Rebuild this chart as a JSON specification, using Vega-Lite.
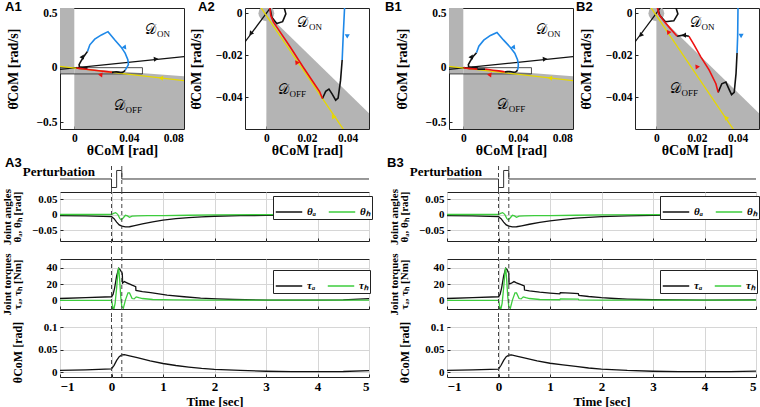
{
"$schema": "https://vega.github.io/schema/vega-lite/v6.json",
"padding": {"left": 0, "top": 0, "right": 0, "bottom": 0},
"background": "white",
"config": {
  "font": "Liberation Serif",
  "view": {"stroke": "#222", "strokeWidth": 1},
  "style": {"guide-label": {"font": "Liberation Serif", "fontWeight": "bold"}, "guide-title": {"font": "Liberation Serif", "fontWeight": "bold"}},
  "axis": {"labelFont": "Liberation Serif", "labelFontWeight": "bold", "labelFontSize": 11, "labelColor": "#000", "labelOverlap": false,
    "titleFont": "Liberation Serif", "titleFontWeight": "bold", "titleFontSize": 12, "titleColor": "#000",
    "domain": false, "tickColor": "#222", "tickSize": -3, "labelPadding": 6, "gridColor": "#d6d6d6", "gridWidth": 1, "grid": false},
  "title": {"font": "Liberation Sans", "fontSize": 13, "fontWeight": "bold", "anchor": "start", "frame": "group", "color": "#000"},
  "text": {"color": "#000"}
},
"datasets": {
  "trajA": [
    {"seg":1,"kind":"perturbation","i":1,"th":0.0016,"thd":0.0034},{"seg":1,"kind":"perturbation","i":2,"th":0.0027,"thd":-0.0019},{"seg":1,"kind":"perturbation","i":3,"th":0.0051,"thd":-0.0049},{"seg":1,"kind":"perturbation","i":4,"th":0.008,"thd":-0.004},{"seg":1,"kind":"perturbation","i":5,"th":0.0096,"thd":-0.0003},{"seg":1,"kind":"perturbation","i":6,"th":0.0087,"thd":0.0029},{"seg":1,"kind":"perturbation","i":7,"th":0.0059,"thd":0.0045},{"seg":1,"kind":"perturbation","i":8,"th":0.0038,"thd":0.008},{"seg":1,"kind":"perturbation","i":9,"th":0.0035,"thd":0.03},{"seg":1,"kind":"perturbation","i":10,"th":0.0048,"thd":0.061},{"seg":1,"kind":"perturbation","i":11,"th":0.007,"thd":0.105},{"seg":1,"kind":"perturbation","i":12,"th":0.0097,"thd":0.152},
    {"seg":2,"kind":"on","i":1,"th":0.0097,"thd":0.152},{"seg":2,"kind":"on","i":2,"th":0.0114,"thd":0.212},{"seg":2,"kind":"on","i":3,"th":0.015,"thd":0.264},{"seg":2,"kind":"on","i":4,"th":0.0199,"thd":0.303},{"seg":2,"kind":"on","i":5,"th":0.0247,"thd":0.333},{"seg":2,"kind":"on","i":6,"th":0.0296,"thd":0.258},{"seg":2,"kind":"on","i":7,"th":0.0344,"thd":0.191},{"seg":2,"kind":"on","i":8,"th":0.0373,"thd":0.136},{"seg":2,"kind":"on","i":9,"th":0.0393,"thd":0.076},{"seg":2,"kind":"on","i":10,"th":0.0397,"thd":0.03},{"seg":2,"kind":"on","i":11,"th":0.0386,"thd":0.005},{"seg":2,"kind":"on","i":12,"th":0.0378,"thd":-0.011},{"seg":2,"kind":"on","i":13,"th":0.0373,"thd":-0.0222},
    {"seg":3,"kind":"transition","i":1,"th":0.0373,"thd":-0.0222},{"seg":3,"kind":"transition","i":2,"th":0.0365,"thd":-0.0319},{"seg":3,"kind":"transition","i":3,"th":0.0353,"thd":-0.0403},{"seg":3,"kind":"transition","i":4,"th":0.0341,"thd":-0.0413},{"seg":3,"kind":"transition","i":5,"th":0.0324,"thd":-0.0384},{"seg":3,"kind":"transition","i":6,"th":0.0308,"thd":-0.036},{"seg":3,"kind":"transition","i":7,"th":0.0292,"thd":-0.0371},{"seg":3,"kind":"transition","i":8,"th":0.0276,"thd":-0.0405},
    {"seg":4,"kind":"off","i":1,"th":0.0276,"thd":-0.0405},{"seg":4,"kind":"off","i":2,"th":0.0262,"thd":-0.0372},{"seg":4,"kind":"off","i":3,"th":0.0236,"thd":-0.0335},{"seg":4,"kind":"off","i":4,"th":0.018,"thd":-0.0254},{"seg":4,"kind":"off","i":5,"th":0.0116,"thd":-0.0158},{"seg":4,"kind":"off","i":6,"th":0.006,"thd":-0.0078},{"seg":4,"kind":"off","i":7,"th":0.0035,"thd":-0.0042},{"seg":4,"kind":"off","i":8,"th":0.0022,"thd":-0.0011},{"seg":4,"kind":"off","i":9,"th":0.0016,"thd":0.0034}
  ],
  "trajB": [
    {"seg":1,"kind":"perturbation","i":1,"th":0.0003,"thd":0.0037},{"seg":1,"kind":"perturbation","i":2,"th":0.0017,"thd":-0.0011},{"seg":1,"kind":"perturbation","i":3,"th":0.0045,"thd":-0.004},{"seg":1,"kind":"perturbation","i":4,"th":0.0086,"thd":-0.0036},{"seg":1,"kind":"perturbation","i":5,"th":0.0106,"thd":-0.0003},{"seg":1,"kind":"perturbation","i":6,"th":0.0094,"thd":0.0034},{"seg":1,"kind":"perturbation","i":7,"th":0.0061,"thd":0.0049},{"seg":1,"kind":"perturbation","i":8,"th":0.004,"thd":0.008},{"seg":1,"kind":"perturbation","i":9,"th":0.0037,"thd":0.03},{"seg":1,"kind":"perturbation","i":10,"th":0.005,"thd":0.061},{"seg":1,"kind":"perturbation","i":11,"th":0.0072,"thd":0.105},{"seg":1,"kind":"perturbation","i":12,"th":0.0097,"thd":0.14},
    {"seg":2,"kind":"on","i":1,"th":0.0097,"thd":0.14},{"seg":2,"kind":"on","i":2,"th":0.0114,"thd":0.2},{"seg":2,"kind":"on","i":3,"th":0.015,"thd":0.255},{"seg":2,"kind":"on","i":4,"th":0.0199,"thd":0.298},{"seg":2,"kind":"on","i":5,"th":0.0247,"thd":0.326},{"seg":2,"kind":"on","i":6,"th":0.0296,"thd":0.255},{"seg":2,"kind":"on","i":7,"th":0.0344,"thd":0.19},{"seg":2,"kind":"on","i":8,"th":0.0378,"thd":0.135},{"seg":2,"kind":"on","i":9,"th":0.0398,"thd":0.076},{"seg":2,"kind":"on","i":10,"th":0.0404,"thd":0.03},{"seg":2,"kind":"on","i":11,"th":0.0402,"thd":0.005},{"seg":2,"kind":"on","i":12,"th":0.04,"thd":-0.0108},{"seg":2,"kind":"on","i":13,"th":0.0397,"thd":-0.0189},
    {"seg":3,"kind":"transition","i":1,"th":0.0397,"thd":-0.0189},{"seg":3,"kind":"transition","i":2,"th":0.0392,"thd":-0.0287},{"seg":3,"kind":"transition","i":3,"th":0.0383,"thd":-0.0376},{"seg":3,"kind":"transition","i":4,"th":0.037,"thd":-0.0387},{"seg":3,"kind":"transition","i":5,"th":0.0359,"thd":-0.0364},{"seg":3,"kind":"transition","i":6,"th":0.0342,"thd":-0.0327},{"seg":3,"kind":"transition","i":7,"th":0.0322,"thd":-0.0335},{"seg":3,"kind":"transition","i":8,"th":0.0304,"thd":-0.0376},
    {"seg":4,"kind":"off","i":1,"th":0.0304,"thd":-0.0376},{"seg":4,"kind":"off","i":2,"th":0.0293,"thd":-0.0335},{"seg":4,"kind":"off","i":3,"th":0.026,"thd":-0.027},{"seg":4,"kind":"off","i":4,"th":0.0218,"thd":-0.0206},{"seg":4,"kind":"off","i":5,"th":0.0185,"thd":-0.0149},{"seg":4,"kind":"off","i":6,"th":0.016,"thd":-0.0109},
    {"seg":5,"kind":"transition","i":1,"th":0.016,"thd":-0.0109},{"seg":5,"kind":"transition","i":2,"th":0.0132,"thd":-0.0104},{"seg":5,"kind":"transition","i":3,"th":0.0102,"thd":-0.0109},
    {"seg":6,"kind":"off","i":1,"th":0.0102,"thd":-0.0109},{"seg":6,"kind":"off","i":2,"th":0.0069,"thd":-0.0073},{"seg":6,"kind":"off","i":3,"th":0.0036,"thd":-0.0036},{"seg":6,"kind":"off","i":4,"th":0.0012,"thd":-0.0003},{"seg":6,"kind":"off","i":5,"th":0.0003,"thd":0.0037}
  ],
  "arrows1": [
    {"th":0.06,"thd":0.082,"dir":-6,"kind":"unstable"},{"th":0.0635,"thd":-0.093,"dir":186,"kind":"stable"},{"th":0.019,"thd":-0.062,"dir":186,"kind":"off"},{"th":0.0372,"thd":0.185,"dir":52,"kind":"on"},{"th":0.0062,"thd":0.106,"dir":-62,"kind":"perturbation"}
  ],
  "arrowsA2": [
    {"th":-0.0077,"thd":-0.0097,"dir":127.6,"kind":"unstable"},{"th":0.0148,"thd":-0.0232,"dir":234.5,"kind":"off"},{"th":0.0328,"thd":-0.0489,"dir":234.5,"kind":"stable"},{"th":0.0398,"thd":-0.011,"dir":90,"kind":"on"}
  ],
  "arrowsB2": [
    {"th":-0.0077,"thd":-0.0105,"dir":127.6,"kind":"unstable"},{"th":0.0058,"thd":-0.0088,"dir":234.5,"kind":"off"},{"th":0.0198,"thd":-0.0252,"dir":234.5,"kind":"off"},{"th":0.0135,"thd":-0.0104,"dir":180,"kind":"transition"},{"th":0.0342,"thd":-0.0495,"dir":234.5,"kind":"stable"},{"th":0.0417,"thd":-0.0108,"dir":90,"kind":"on"}
  ],
  "manifolds": [
    {"kind":"unstable","th":-0.0105,"thd":-0.01365},{"kind":"unstable","th":0.0805,"thd":0.10465},
    {"kind":"stable","th":-0.0105,"thd":0.0139},{"kind":"stable","th":0.0805,"thd":-0.116}
  ],
  "wedge": [{"th":0,"lo":-0.6,"hi":0},{"th":0.0805,"lo":-0.6,"hi":-0.0757}],
  "strip": [{"th":-0.0105,"th2":0,"lo":-0.055,"hi":0.6}],
  "zoombox": [{"th":-0.0105,"th2":0.05,"lo":-0.055,"hi":0.0025}],
  "origin": [{"th":0,"thd":0}],
  "events": [{"t":0},{"t":0.2}],
  "pert": [{"i":1,"t":-1,"u":0},{"i":2,"t":0,"u":0},{"i":3,"t":0,"u":-1},{"i":4,"t":0.1,"u":-1},{"i":5,"t":0.1,"u":1},{"i":6,"t":0.2,"u":1},{"i":7,"t":0.2,"u":0},{"i":8,"t":5,"u":0}],
  "angA": [
    {"s":"θₐ","t":-1,"v":-0.003},{"s":"θₐ","t":-0.5,"v":-0.004},{"s":"θₐ","t":0,"v":-0.0065},{"s":"θₐ","t":0.05,"v":-0.013},{"s":"θₐ","t":0.1,"v":-0.024},{"s":"θₐ","t":0.15,"v":-0.033},{"s":"θₐ","t":0.2,"v":-0.037},{"s":"θₐ","t":0.27,"v":-0.0395},{"s":"θₐ","t":0.35,"v":-0.039},{"s":"θₐ","t":0.45,"v":-0.0355},{"s":"θₐ","t":0.6,"v":-0.03},{"s":"θₐ","t":0.8,"v":-0.023},{"s":"θₐ","t":1.0,"v":-0.0175},{"s":"θₐ","t":1.25,"v":-0.013},{"s":"θₐ","t":1.5,"v":-0.0095},{"s":"θₐ","t":1.75,"v":-0.007},{"s":"θₐ","t":2.0,"v":-0.0052},{"s":"θₐ","t":2.5,"v":-0.0035},{"s":"θₐ","t":3,"v":-0.0025},{"s":"θₐ","t":3.5,"v":-0.002},{"s":"θₐ","t":4,"v":-0.0018},{"s":"θₐ","t":4.5,"v":-0.002},{"s":"θₐ","t":5,"v":-0.003},
    {"s":"θₕ","t":-1,"v":0.0005},{"s":"θₕ","t":0,"v":0.0005},{"s":"θₕ","t":0.04,"v":0.004},{"s":"θₕ","t":0.08,"v":0.0065},{"s":"θₕ","t":0.12,"v":0.001},{"s":"θₕ","t":0.16,"v":-0.012},{"s":"θₕ","t":0.19,"v":-0.017},{"s":"θₕ","t":0.23,"v":-0.01},{"s":"θₕ","t":0.27,"v":-0.002},{"s":"θₕ","t":0.31,"v":-0.004},{"s":"θₕ","t":0.35,"v":-0.0085},{"s":"θₕ","t":0.4,"v":-0.005},{"s":"θₕ","t":0.5,"v":-0.004},{"s":"θₕ","t":0.7,"v":-0.0035},{"s":"θₕ","t":1.0,"v":-0.003},{"s":"θₕ","t":1.5,"v":-0.002},{"s":"θₕ","t":2,"v":-0.001},{"s":"θₕ","t":3,"v":0},{"s":"θₕ","t":4,"v":0.0005},{"s":"θₕ","t":5,"v":0.0005}
  ],
  "angB": [
    {"s":"θₐ","t":-1,"v":-0.003},{"s":"θₐ","t":-0.5,"v":-0.004},{"s":"θₐ","t":0,"v":-0.0065},{"s":"θₐ","t":0.05,"v":-0.013},{"s":"θₐ","t":0.1,"v":-0.024},{"s":"θₐ","t":0.15,"v":-0.033},{"s":"θₐ","t":0.2,"v":-0.037},{"s":"θₐ","t":0.27,"v":-0.0395},{"s":"θₐ","t":0.35,"v":-0.039},{"s":"θₐ","t":0.45,"v":-0.036},{"s":"θₐ","t":0.6,"v":-0.031},{"s":"θₐ","t":0.8,"v":-0.025},{"s":"θₐ","t":1.0,"v":-0.02},{"s":"θₐ","t":1.25,"v":-0.0155},{"s":"θₐ","t":1.5,"v":-0.0115},{"s":"θₐ","t":1.75,"v":-0.0085},{"s":"θₐ","t":2.0,"v":-0.0062},{"s":"θₐ","t":2.5,"v":-0.004},{"s":"θₐ","t":3,"v":-0.0025},{"s":"θₐ","t":3.5,"v":-0.0018},{"s":"θₐ","t":4,"v":-0.0012},{"s":"θₐ","t":4.5,"v":-0.001},{"s":"θₐ","t":5,"v":-0.001},
    {"s":"θₕ","t":-1,"v":0.0005},{"s":"θₕ","t":0,"v":0.0005},{"s":"θₕ","t":0.04,"v":0.004},{"s":"θₕ","t":0.08,"v":0.0065},{"s":"θₕ","t":0.12,"v":0.001},{"s":"θₕ","t":0.16,"v":-0.012},{"s":"θₕ","t":0.19,"v":-0.017},{"s":"θₕ","t":0.23,"v":-0.01},{"s":"θₕ","t":0.27,"v":-0.002},{"s":"θₕ","t":0.31,"v":-0.004},{"s":"θₕ","t":0.35,"v":-0.0085},{"s":"θₕ","t":0.4,"v":-0.005},{"s":"θₕ","t":0.5,"v":-0.004},{"s":"θₕ","t":0.7,"v":-0.0035},{"s":"θₕ","t":1.0,"v":-0.003},{"s":"θₕ","t":1.5,"v":-0.002},{"s":"θₕ","t":2,"v":-0.001},{"s":"θₕ","t":3,"v":0},{"s":"θₕ","t":4,"v":0.0005},{"s":"θₕ","t":5,"v":0.0005}
  ],
  "torA": [
    {"s":"τₐ","t":-1,"v":2},{"s":"τₐ","t":-0.5,"v":3},{"s":"τₐ","t":0,"v":4.2},{"s":"τₐ","t":0.03,"v":7},{"s":"τₐ","t":0.06,"v":15},{"s":"τₐ","t":0.1,"v":30},{"s":"τₐ","t":0.14,"v":39.5},{"s":"τₐ","t":0.17,"v":37.5},{"s":"τₐ","t":0.21,"v":33},{"s":"τₐ","t":0.215,"v":21},{"s":"τₐ","t":0.25,"v":23},{"s":"τₐ","t":0.3,"v":21.5},{"s":"τₐ","t":0.4,"v":18.5},{"s":"τₐ","t":0.47,"v":16.7},{"s":"τₐ","t":0.475,"v":12},{"s":"τₐ","t":0.6,"v":10.5},{"s":"τₐ","t":0.76,"v":9.2},{"s":"τₐ","t":1.08,"v":6.3},{"s":"τₐ","t":1.41,"v":4.2},{"s":"τₐ","t":1.73,"v":2.5},{"s":"τₐ","t":2.05,"v":1.5},{"s":"τₐ","t":2.38,"v":0.8},{"s":"τₐ","t":3.03,"v":0.1},{"s":"τₐ","t":4,"v":0},{"s":"τₐ","t":4.5,"v":0.4},{"s":"τₐ","t":5,"v":1.8},
    {"s":"τₕ","t":-1,"v":-0.4},{"s":"τₕ","t":0,"v":-0.4},{"s":"τₕ","t":0.015,"v":-5},{"s":"τₕ","t":0.04,"v":-13},{"s":"τₕ","t":0.07,"v":-4},{"s":"τₕ","t":0.1,"v":15},{"s":"τₕ","t":0.125,"v":35},{"s":"τₕ","t":0.14,"v":40},{"s":"τₕ","t":0.16,"v":24},{"s":"τₕ","t":0.18,"v":4},{"s":"τₕ","t":0.2,"v":-8},{"s":"τₕ","t":0.23,"v":-10},{"s":"τₕ","t":0.27,"v":0},{"s":"τₕ","t":0.32,"v":9},{"s":"τₕ","t":0.35,"v":9},{"s":"τₕ","t":0.4,"v":2},{"s":"τₕ","t":0.44,"v":1.5},{"s":"τₕ","t":0.48,"v":4},{"s":"τₕ","t":0.53,"v":3},{"s":"τₕ","t":0.6,"v":2},{"s":"τₕ","t":0.8,"v":0.8},{"s":"τₕ","t":1.2,"v":0.3},{"s":"τₕ","t":2,"v":0},{"s":"τₕ","t":5,"v":0}
  ],
  "torB": [
    {"s":"τₐ","t":-1,"v":2},{"s":"τₐ","t":-0.5,"v":3},{"s":"τₐ","t":0,"v":4.2},{"s":"τₐ","t":0.03,"v":7},{"s":"τₐ","t":0.06,"v":15},{"s":"τₐ","t":0.1,"v":30},{"s":"τₐ","t":0.14,"v":39.5},{"s":"τₐ","t":0.17,"v":37.5},{"s":"τₐ","t":0.2,"v":33},{"s":"τₐ","t":0.205,"v":20},{"s":"τₐ","t":0.25,"v":21},{"s":"τₐ","t":0.3,"v":23},{"s":"τₐ","t":0.35,"v":21.5},{"s":"τₐ","t":0.45,"v":19},{"s":"τₐ","t":0.5,"v":17.5},{"s":"τₐ","t":0.505,"v":12.5},{"s":"τₐ","t":0.6,"v":11.5},{"s":"τₐ","t":0.8,"v":10},{"s":"τₐ","t":1.0,"v":8.8},{"s":"τₐ","t":1.19,"v":7.8},{"s":"τₐ","t":1.2,"v":9.3},{"s":"τₐ","t":1.4,"v":8.8},{"s":"τₐ","t":1.55,"v":8.2},{"s":"τₐ","t":1.56,"v":6},{"s":"τₐ","t":1.75,"v":4.5},{"s":"τₐ","t":2.0,"v":3},{"s":"τₐ","t":2.25,"v":2},{"s":"τₐ","t":2.5,"v":1.3},{"s":"τₐ","t":3,"v":0.5},{"s":"τₐ","t":3.5,"v":0.2},{"s":"τₐ","t":4,"v":0.1},{"s":"τₐ","t":5,"v":0.2},
    {"s":"τₕ","t":-1,"v":-0.4},{"s":"τₕ","t":0,"v":-0.4},{"s":"τₕ","t":0.015,"v":-5},{"s":"τₕ","t":0.04,"v":-13},{"s":"τₕ","t":0.07,"v":-4},{"s":"τₕ","t":0.1,"v":15},{"s":"τₕ","t":0.125,"v":35},{"s":"τₕ","t":0.14,"v":40},{"s":"τₕ","t":0.16,"v":24},{"s":"τₕ","t":0.18,"v":4},{"s":"τₕ","t":0.2,"v":-8},{"s":"τₕ","t":0.23,"v":-10},{"s":"τₕ","t":0.27,"v":0},{"s":"τₕ","t":0.32,"v":9},{"s":"τₕ","t":0.35,"v":9},{"s":"τₕ","t":0.4,"v":2},{"s":"τₕ","t":0.44,"v":1.5},{"s":"τₕ","t":0.48,"v":4},{"s":"τₕ","t":0.53,"v":3},{"s":"τₕ","t":0.6,"v":2},{"s":"τₕ","t":0.8,"v":0.8},{"s":"τₕ","t":1.19,"v":0.5},{"s":"τₕ","t":1.2,"v":1.5},{"s":"τₕ","t":1.55,"v":1.2},{"s":"τₕ","t":1.56,"v":0.4},{"s":"τₕ","t":2,"v":0.1},{"s":"τₕ","t":5,"v":0}
  ],
  "comA": [
    {"t":-1,"v":0.0038},{"t":-0.5,"v":0.005},{"t":0,"v":0.0068},{"t":0.05,"v":0.015},{"t":0.1,"v":0.026},{"t":0.15,"v":0.034},{"t":0.2,"v":0.038},{"t":0.25,"v":0.0385},{"t":0.35,"v":0.036},{"t":0.5,"v":0.032},{"t":0.75,"v":0.025},{"t":1.0,"v":0.019},{"t":1.25,"v":0.0145},{"t":1.5,"v":0.011},{"t":1.75,"v":0.008},{"t":2.0,"v":0.006},{"t":2.5,"v":0.0035},{"t":3,"v":0.0018},{"t":3.5,"v":0.001},{"t":4,"v":0.0008},{"t":4.5,"v":0.0012},{"t":5,"v":0.003}
  ],
  "comB": [
    {"t":-1,"v":0.0038},{"t":-0.5,"v":0.005},{"t":0,"v":0.0065},{"t":0.05,"v":0.015},{"t":0.1,"v":0.026},{"t":0.15,"v":0.034},{"t":0.2,"v":0.0375},{"t":0.25,"v":0.038},{"t":0.35,"v":0.0355},{"t":0.5,"v":0.0315},{"t":0.75,"v":0.025},{"t":1.0,"v":0.0195},{"t":1.25,"v":0.016},{"t":1.5,"v":0.0125},{"t":1.75,"v":0.009},{"t":2.0,"v":0.0065},{"t":2.5,"v":0.0035},{"t":3,"v":0.0018},{"t":3.5,"v":0.001},{"t":4,"v":0.0008},{"t":4.5,"v":0.001},{"t":5,"v":0.0022}
  ]
},
"vconcat": [
  {"hconcat": [
    {"hconcat": [
      {"width": 124, "height": 121, "title": {"text": "A1", "dx": -55, "dy": 11},
       "layer": [
        {"data": {"name": "strip"}, "mark": {"type": "rect", "color": "#b4b4b4", "clip": true},
         "encoding": {"x": {"field": "th", "type": "quantitative", "scale": {"domain": [-0.0105, 0.0805], "nice": false, "zero": false}, "axis": {"values": [0, 0.02, 0.04, 0.06, 0.08], "format": "~g", "title": "θCoM [rad]", "titleFontSize": 14, "labelFontSize": 11.5, "titlePadding": 0}},
          "x2": {"field": "th2"},
          "y": {"field": "lo", "type": "quantitative", "scale": {"domain": [-0.56, 0.55], "nice": false, "zero": false}, "axis": {"values": [-0.5, 0, 0.5], "format": "~g", "title": "θ̇CoM [rad/s]", "titleFontSize": 14, "labelFontSize": 11.5, "minExtent": 28, "maxExtent": 28, "titlePadding": 12}},
          "y2": {"field": "hi"}}},
        {"data": {"name": "wedge"}, "mark": {"type": "area", "color": "#b4b4b4", "clip": true},
         "encoding": {"x": {"field": "th", "type": "quantitative"}, "y": {"field": "lo", "type": "quantitative"}, "y2": {"field": "hi"}}},
        {"data": {"name": "zoombox"}, "mark": {"type": "rect", "fill": null, "stroke": "#222", "strokeWidth": 0.8, "clip": true},
         "encoding": {"x": {"field": "th", "type": "quantitative"}, "x2": {"field": "th2"}, "y": {"field": "lo", "type": "quantitative"}, "y2": {"field": "hi"}}},
        {"data": {"name": "manifolds"}, "mark": {"type": "line", "strokeWidth": 1.3, "clip": true},
         "encoding": {"x": {"field": "th", "type": "quantitative"}, "y": {"field": "thd", "type": "quantitative"},
          "color": {"field": "kind", "type": "nominal", "scale": {"domain": ["stable", "unstable", "perturbation", "on", "transition", "off"], "range": ["#e6d800", "#111111", "#111111", "#1e88e8", "#111111", "#ee1111"]}, "legend": null}}},
        {"data": {"name": "trajA"}, "mark": {"type": "line", "strokeWidth": 1.6, "clip": true},
         "encoding": {"x": {"field": "th", "type": "quantitative"}, "y": {"field": "thd", "type": "quantitative"}, "detail": {"field": "seg", "type": "nominal"}, "order": {"field": "i", "type": "quantitative"},
          "color": {"field": "kind", "type": "nominal", "legend": null}}},
        {"data": {"name": "arrows1"}, "mark": {"type": "point", "shape": "triangle-right", "filled": true, "opacity": 1, "size": 26, "clip": true},
         "encoding": {"x": {"field": "th", "type": "quantitative"}, "y": {"field": "thd", "type": "quantitative"}, "angle": {"field": "dir", "type": "quantitative", "scale": null}, "color": {"field": "kind", "type": "nominal", "legend": null}}},
        {"data": {"values": [{"th": 0.0562, "thd": 0.348, "base": "𝒟", "sub": "ON"}, {"th": 0.0332, "thd": -0.348, "base": "𝒟", "sub": "OFF"}]},
         "layer": [
          {"mark": {"type": "text", "font": "DejaVu Serif", "fontSize": 14, "align": "center", "baseline": "middle"}, "encoding": {"x": {"field": "th", "type": "quantitative"}, "y": {"field": "thd", "type": "quantitative"}, "text": {"field": "base"}}},
          {"mark": {"type": "text", "font": "Liberation Serif", "fontSize": 9, "align": "left", "baseline": "middle", "dx": 6, "dy": 4}, "encoding": {"x": {"field": "th", "type": "quantitative"}, "y": {"field": "thd", "type": "quantitative"}, "text": {"field": "sub"}}}
         ]}
       ]},
      {"width": 124, "height": 121, "title": {"text": "A2", "dx": -47, "dy": 11},
       "layer": [
        {"data": {"name": "wedge"}, "mark": {"type": "area", "color": "#b4b4b4", "clip": true},
         "encoding": {"x": {"field": "th", "type": "quantitative", "scale": {"domain": [-0.0105, 0.0505], "nice": false, "zero": false}, "axis": {"values": [0, 0.02, 0.04], "format": "~g", "title": "θCoM [rad]", "titleFontSize": 14, "labelFontSize": 11.5, "titlePadding": 0}},
          "y": {"field": "lo", "type": "quantitative", "scale": {"domain": [-0.055, 0.0025], "nice": false, "zero": false}, "axis": {"values": [-0.04, -0.02, 0], "format": "~g", "title": "θ̇CoM [rad/s]", "titleFontSize": 14, "labelFontSize": 11.5, "minExtent": 30, "maxExtent": 30, "titlePadding": 12}},
          "y2": {"field": "hi"}}},
        {"data": {"name": "origin"}, "mark": {"type": "point", "shape": "circle", "filled": true, "color": "#b4b4b4", "opacity": 1, "size": 250, "clip": true},
         "encoding": {"x": {"field": "th", "type": "quantitative"}, "y": {"field": "thd", "type": "quantitative"}}},
        {"data": {"name": "manifolds"}, "mark": {"type": "line", "strokeWidth": 1.3, "clip": true},
         "encoding": {"x": {"field": "th", "type": "quantitative"}, "y": {"field": "thd", "type": "quantitative"},
          "color": {"field": "kind", "type": "nominal", "scale": {"domain": ["stable", "unstable", "perturbation", "on", "transition", "off"], "range": ["#e6d800", "#111111", "#111111", "#1e88e8", "#111111", "#ee1111"]}, "legend": null}}},
        {"data": {"name": "trajA"}, "mark": {"type": "line", "strokeWidth": 1.6, "clip": true},
         "encoding": {"x": {"field": "th", "type": "quantitative"}, "y": {"field": "thd", "type": "quantitative"}, "detail": {"field": "seg", "type": "nominal"}, "order": {"field": "i", "type": "quantitative"},
          "color": {"field": "kind", "type": "nominal", "legend": null}}},
        {"data": {"name": "arrowsA2"}, "mark": {"type": "point", "shape": "triangle-right", "filled": true, "opacity": 1, "size": 26, "clip": true},
         "encoding": {"x": {"field": "th", "type": "quantitative"}, "y": {"field": "thd", "type": "quantitative"}, "angle": {"field": "dir", "type": "quantitative", "scale": null}, "color": {"field": "kind", "type": "nominal", "legend": null}}},
        {"data": {"values": [{"th": 0.018, "thd": -0.0047, "base": "𝒟", "sub": "ON"}, {"th": 0.0084, "thd": -0.0364, "base": "𝒟", "sub": "OFF"}]},
         "layer": [
          {"mark": {"type": "text", "font": "DejaVu Serif", "fontSize": 14, "align": "center", "baseline": "middle"}, "encoding": {"x": {"field": "th", "type": "quantitative"}, "y": {"field": "thd", "type": "quantitative"}, "text": {"field": "base"}}},
          {"mark": {"type": "text", "font": "Liberation Serif", "fontSize": 9, "align": "left", "baseline": "middle", "dx": 6, "dy": 4}, "encoding": {"x": {"field": "th", "type": "quantitative"}, "y": {"field": "thd", "type": "quantitative"}, "text": {"field": "sub"}}}
         ]}
       ]}
    ], "spacing": 61, "bounds": "flush"},
    {"hconcat": [
      {"width": 124, "height": 121, "title": {"text": "B1", "dx": -64, "dy": 11},
       "layer": [
        {"data": {"name": "strip"}, "mark": {"type": "rect", "color": "#b4b4b4", "clip": true},
         "encoding": {"x": {"field": "th", "type": "quantitative", "scale": {"domain": [-0.0105, 0.0805], "nice": false, "zero": false}, "axis": {"values": [0, 0.02, 0.04, 0.06, 0.08], "format": "~g", "title": "θCoM [rad]", "titleFontSize": 14, "labelFontSize": 11.5, "titlePadding": 0}},
          "x2": {"field": "th2"},
          "y": {"field": "lo", "type": "quantitative", "scale": {"domain": [-0.56, 0.55], "nice": false, "zero": false}, "axis": {"values": [-0.5, 0, 0.5], "format": "~g", "title": "θ̇CoM [rad/s]", "titleFontSize": 14, "labelFontSize": 11.5, "minExtent": 28, "maxExtent": 28, "titlePadding": 12}},
          "y2": {"field": "hi"}}},
        {"data": {"name": "wedge"}, "mark": {"type": "area", "color": "#b4b4b4", "clip": true},
         "encoding": {"x": {"field": "th", "type": "quantitative"}, "y": {"field": "lo", "type": "quantitative"}, "y2": {"field": "hi"}}},
        {"data": {"name": "zoombox"}, "mark": {"type": "rect", "fill": null, "stroke": "#222", "strokeWidth": 0.8, "clip": true},
         "encoding": {"x": {"field": "th", "type": "quantitative"}, "x2": {"field": "th2"}, "y": {"field": "lo", "type": "quantitative"}, "y2": {"field": "hi"}}},
        {"data": {"name": "manifolds"}, "mark": {"type": "line", "strokeWidth": 1.3, "clip": true},
         "encoding": {"x": {"field": "th", "type": "quantitative"}, "y": {"field": "thd", "type": "quantitative"},
          "color": {"field": "kind", "type": "nominal", "scale": {"domain": ["stable", "unstable", "perturbation", "on", "transition", "off"], "range": ["#e6d800", "#111111", "#111111", "#1e88e8", "#111111", "#ee1111"]}, "legend": null}}},
        {"data": {"name": "trajB"}, "mark": {"type": "line", "strokeWidth": 1.6, "clip": true},
         "encoding": {"x": {"field": "th", "type": "quantitative"}, "y": {"field": "thd", "type": "quantitative"}, "detail": {"field": "seg", "type": "nominal"}, "order": {"field": "i", "type": "quantitative"},
          "color": {"field": "kind", "type": "nominal", "legend": null}}},
        {"data": {"name": "arrows1"}, "mark": {"type": "point", "shape": "triangle-right", "filled": true, "opacity": 1, "size": 26, "clip": true},
         "encoding": {"x": {"field": "th", "type": "quantitative"}, "y": {"field": "thd", "type": "quantitative"}, "angle": {"field": "dir", "type": "quantitative", "scale": null}, "color": {"field": "kind", "type": "nominal", "legend": null}}},
        {"data": {"values": [{"th": 0.0573, "thd": 0.344, "base": "𝒟", "sub": "ON"}, {"th": 0.0289, "thd": -0.338, "base": "𝒟", "sub": "OFF"}]},
         "layer": [
          {"mark": {"type": "text", "font": "DejaVu Serif", "fontSize": 14, "align": "center", "baseline": "middle"}, "encoding": {"x": {"field": "th", "type": "quantitative"}, "y": {"field": "thd", "type": "quantitative"}, "text": {"field": "base"}}},
          {"mark": {"type": "text", "font": "Liberation Serif", "fontSize": 9, "align": "left", "baseline": "middle", "dx": 6, "dy": 4}, "encoding": {"x": {"field": "th", "type": "quantitative"}, "y": {"field": "thd", "type": "quantitative"}, "text": {"field": "sub"}}}
         ]}
       ]},
      {"width": 124, "height": 121, "title": {"text": "B2", "dx": -59, "dy": 11},
       "layer": [
        {"data": {"name": "wedge"}, "mark": {"type": "area", "color": "#b4b4b4", "clip": true},
         "encoding": {"x": {"field": "th", "type": "quantitative", "scale": {"domain": [-0.0105, 0.0505], "nice": false, "zero": false}, "axis": {"values": [0, 0.02, 0.04], "format": "~g", "title": "θCoM [rad]", "titleFontSize": 14, "labelFontSize": 11.5, "titlePadding": 0}},
          "y": {"field": "lo", "type": "quantitative", "scale": {"domain": [-0.055, 0.0025], "nice": false, "zero": false}, "axis": {"values": [-0.04, -0.02, 0], "format": "~g", "title": "θ̇CoM [rad/s]", "titleFontSize": 14, "labelFontSize": 11.5, "minExtent": 30, "maxExtent": 30, "titlePadding": 12}},
          "y2": {"field": "hi"}}},
        {"data": {"name": "origin"}, "mark": {"type": "point", "shape": "circle", "filled": true, "color": "#b4b4b4", "opacity": 1, "size": 250, "clip": true},
         "encoding": {"x": {"field": "th", "type": "quantitative"}, "y": {"field": "thd", "type": "quantitative"}}},
        {"data": {"name": "manifolds"}, "mark": {"type": "line", "strokeWidth": 1.3, "clip": true},
         "encoding": {"x": {"field": "th", "type": "quantitative"}, "y": {"field": "thd", "type": "quantitative"},
          "color": {"field": "kind", "type": "nominal", "scale": {"domain": ["stable", "unstable", "perturbation", "on", "transition", "off"], "range": ["#e6d800", "#111111", "#111111", "#1e88e8", "#111111", "#ee1111"]}, "legend": null}}},
        {"data": {"name": "trajB"}, "mark": {"type": "line", "strokeWidth": 1.6, "clip": true},
         "encoding": {"x": {"field": "th", "type": "quantitative"}, "y": {"field": "thd", "type": "quantitative"}, "detail": {"field": "seg", "type": "nominal"}, "order": {"field": "i", "type": "quantitative"},
          "color": {"field": "kind", "type": "nominal", "legend": null}}},
        {"data": {"name": "arrowsB2"}, "mark": {"type": "point", "shape": "triangle-right", "filled": true, "opacity": 1, "size": 26, "clip": true},
         "encoding": {"x": {"field": "th", "type": "quantitative"}, "y": {"field": "thd", "type": "quantitative"}, "angle": {"field": "dir", "type": "quantitative", "scale": null}, "color": {"field": "kind", "type": "nominal", "legend": null}}},
        {"data": {"values": [{"th": 0.0193, "thd": -0.0047, "base": "𝒟", "sub": "ON"}, {"th": 0.0094, "thd": -0.036, "base": "𝒟", "sub": "OFF"}]},
         "layer": [
          {"mark": {"type": "text", "font": "DejaVu Serif", "fontSize": 14, "align": "center", "baseline": "middle"}, "encoding": {"x": {"field": "th", "type": "quantitative"}, "y": {"field": "thd", "type": "quantitative"}, "text": {"field": "base"}}},
          {"mark": {"type": "text", "font": "Liberation Serif", "fontSize": 9, "align": "left", "baseline": "middle", "dx": 6, "dy": 4}, "encoding": {"x": {"field": "th", "type": "quantitative"}, "y": {"field": "thd", "type": "quantitative"}, "text": {"field": "sub"}}}
         ]}
       ]}
    ], "spacing": 62, "bounds": "flush"}
  ], "spacing": 14},
  {"hconcat": [
    {"vconcat": [
      {"width": 309, "height": 8, "view": {"stroke": null}, "title": {"text": "A3", "dx": -55, "offset": 3, "dy": 7},
       "layer": [
        {"data": {"name": "events"}, "mark": {"type": "rule", "strokeDash": [4, 3], "color": "#444", "strokeWidth": 1},
         "encoding": {"x": {"field": "t", "type": "quantitative", "scale": {"domain": [-1, 5], "nice": false, "zero": false}, "axis": null},
          "y": {"datum": 1.529, "type": "quantitative", "scale": {"domain": [0.588, 1.529], "nice": false, "zero": false}, "axis": null}, "y2": {"datum": -1.3}}},
        {"data": {"name": "pert"}, "mark": {"type": "line", "color": "#333", "strokeWidth": 1},
         "encoding": {"x": {"field": "t", "type": "quantitative"}, "y": {"field": "u", "type": "quantitative"}, "order": {"field": "i", "type": "quantitative"}}},
        {"data": {"values": [{"label": "Perturbation"}]}, "mark": {"type": "text", "align": "right", "baseline": "alphabetic", "font": "Liberation Serif", "fontWeight": "bold", "fontSize": 13},
         "encoding": {"x": {"datum": -0.32, "type": "quantitative"}, "y": {"datum": 0.35, "type": "quantitative"}, "text": {"field": "label"}}}
       ]},
      {"width": 309, "height": 49, "resolve": {"scale": {"y": "independent"}},
       "layer": [
        {"data": {"name": "angA"}, "mark": {"type": "line", "strokeWidth": 1.3, "clip": true},
         "encoding": {"x": {"field": "t", "type": "quantitative", "scale": {"domain": [-1, 5], "nice": false, "zero": false}, "axis": {"values": [-1, -0.5, 0, 0.5, 1, 1.5, 2, 2.5, 3, 3.5, 4, 4.5, 5], "labels": false, "title": null, "grid": true}},
          "y": {"field": "v", "type": "quantitative", "scale": {"domain": [-0.085, 0.073], "nice": false, "zero": false}, "axis": {"values": [-0.05, 0, 0.05], "format": "~g", "title": ["Joint angles", "θₐ, θₕ [rad]"], "titleFontSize": 11, "titleLineHeight": 10, "grid": true, "minExtent": 28, "maxExtent": 28, "titlePadding": 10}},
          "color": {"field": "s", "type": "nominal", "scale": {"domain": ["θₐ", "θₕ"], "range": ["#111111", "#3ccc3c"]},
           "legend": {"title": null, "orient": "none", "legendX": 213, "legendY": 4, "direction": "horizontal", "strokeColor": "#222", "fillColor": "white", "padding": 2, "symbolType": "stroke", "symbolSize": 700, "symbolStrokeWidth": 1.5, "labelFont": "Liberation Serif", "labelFontSize": 11, "labelFontWeight": "bold", "labelFontStyle": "italic", "columnPadding": 8, "labelOffset": 4}}}},
        {"data": {"name": "events"}, "mark": {"type": "rule", "strokeDash": [4, 3], "color": "#444", "strokeWidth": 1},
         "encoding": {"x": {"field": "t", "type": "quantitative"},
          "y": {"datum": 1.041, "type": "quantitative", "scale": {"domain": [0, 1], "nice": false, "zero": false}, "axis": null}, "y2": {"datum": -0.184}}}
       ]},
      {"width": 309, "height": 50, "resolve": {"scale": {"y": "independent"}},
       "layer": [
        {"data": {"name": "torA"}, "mark": {"type": "line", "strokeWidth": 1.3, "clip": true},
         "encoding": {"x": {"field": "t", "type": "quantitative", "scale": {"domain": [-1, 5], "nice": false, "zero": false}, "axis": {"values": [-1, -0.5, 0, 0.5, 1, 1.5, 2, 2.5, 3, 3.5, 4, 4.5, 5], "labels": false, "title": null, "grid": true}},
          "y": {"field": "v", "type": "quantitative", "scale": {"domain": [-11, 51], "nice": false, "zero": false}, "axis": {"values": [0, 20, 40], "format": "d", "title": ["Joint torques", "τₐ, τₕ [Nm]"], "titleFontSize": 11, "titleLineHeight": 10, "grid": true, "minExtent": 28, "maxExtent": 28, "titlePadding": 10}},
          "color": {"field": "s", "type": "nominal", "scale": {"domain": ["τₐ", "τₕ"], "range": ["#111111", "#3ccc3c"]},
           "legend": {"title": null, "orient": "none", "legendX": 213, "legendY": 11, "direction": "horizontal", "strokeColor": "#222", "fillColor": "white", "padding": 2, "symbolType": "stroke", "symbolSize": 700, "symbolStrokeWidth": 1.5, "labelFont": "Liberation Serif", "labelFontSize": 11, "labelFontWeight": "bold", "labelFontStyle": "italic", "columnPadding": 8, "labelOffset": 4}}}},
        {"data": {"name": "events"}, "mark": {"type": "rule", "strokeDash": [4, 3], "color": "#444", "strokeWidth": 1},
         "encoding": {"x": {"field": "t", "type": "quantitative"},
          "y": {"datum": 1.18, "type": "quantitative", "scale": {"domain": [0, 1], "nice": false, "zero": false}, "axis": null}, "y2": {"datum": -0.18}}}
       ]},
      {"width": 309, "height": 50, "resolve": {"scale": {"y": "independent"}},
       "layer": [
        {"data": {"name": "comA"}, "mark": {"type": "line", "strokeWidth": 1.3, "color": "#111111", "clip": true},
         "encoding": {"x": {"field": "t", "type": "quantitative", "scale": {"domain": [-1, 5], "nice": false, "zero": false}, "axis": {"values": [-1, -0.5, 0, 0.5, 1, 1.5, 2, 2.5, 3, 3.5, 4, 4.5, 5], "format": "~g", "labelExpr": "datum.value % 1 === 0 ? datum.label : ''", "labelFontSize": 13, "title": "Time [sec]", "titleFontSize": 13, "titlePadding": 2, "grid": true}},
          "y": {"field": "v", "type": "quantitative", "scale": {"domain": [-0.011, 0.1], "nice": false, "zero": false}, "axis": {"values": [0, 0.05, 0.1], "format": "~g", "title": "θCoM [rad]", "titleFontSize": 12, "grid": true, "minExtent": 28, "maxExtent": 28, "titlePadding": 8}}}},
        {"data": {"name": "events"}, "mark": {"type": "rule", "strokeDash": [4, 3], "color": "#444", "strokeWidth": 1},
         "encoding": {"x": {"field": "t", "type": "quantitative"},
          "y": {"datum": 1.18, "type": "quantitative", "scale": {"domain": [0, 1], "nice": false, "zero": false}, "axis": null}, "y2": {"datum": 0}}}
       ]}
    ], "spacing": 18, "bounds": "flush", "resolve": {"scale": {"color": "independent"}}},
    {"vconcat": [
      {"width": 309, "height": 8, "view": {"stroke": null}, "title": {"text": "B3", "dx": -60, "offset": 3, "dy": 7},
       "layer": [
        {"data": {"name": "events"}, "mark": {"type": "rule", "strokeDash": [4, 3], "color": "#444", "strokeWidth": 1},
         "encoding": {"x": {"field": "t", "type": "quantitative", "scale": {"domain": [-1, 5], "nice": false, "zero": false}, "axis": null},
          "y": {"datum": 1.529, "type": "quantitative", "scale": {"domain": [0.588, 1.529], "nice": false, "zero": false}, "axis": null}, "y2": {"datum": -1.3}}},
        {"data": {"name": "pert"}, "mark": {"type": "line", "color": "#333", "strokeWidth": 1},
         "encoding": {"x": {"field": "t", "type": "quantitative"}, "y": {"field": "u", "type": "quantitative"}, "order": {"field": "i", "type": "quantitative"}}},
        {"data": {"values": [{"label": "Perturbation"}]}, "mark": {"type": "text", "align": "right", "baseline": "alphabetic", "font": "Liberation Serif", "fontWeight": "bold", "fontSize": 13},
         "encoding": {"x": {"datum": -0.32, "type": "quantitative"}, "y": {"datum": 0.35, "type": "quantitative"}, "text": {"field": "label"}}}
       ]},
      {"width": 309, "height": 49, "resolve": {"scale": {"y": "independent"}},
       "layer": [
        {"data": {"name": "angB"}, "mark": {"type": "line", "strokeWidth": 1.3, "clip": true},
         "encoding": {"x": {"field": "t", "type": "quantitative", "scale": {"domain": [-1, 5], "nice": false, "zero": false}, "axis": {"values": [-1, -0.5, 0, 0.5, 1, 1.5, 2, 2.5, 3, 3.5, 4, 4.5, 5], "labels": false, "title": null, "grid": true}},
          "y": {"field": "v", "type": "quantitative", "scale": {"domain": [-0.085, 0.073], "nice": false, "zero": false}, "axis": {"values": [-0.05, 0, 0.05], "format": "~g", "title": ["Joint angles", "θₐ, θₕ [rad]"], "titleFontSize": 11, "titleLineHeight": 10, "grid": true, "minExtent": 28, "maxExtent": 28, "titlePadding": 10}},
          "color": {"field": "s", "type": "nominal", "scale": {"domain": ["θₐ", "θₕ"], "range": ["#111111", "#3ccc3c"]},
           "legend": {"title": null, "orient": "none", "legendX": 213, "legendY": 4, "direction": "horizontal", "strokeColor": "#222", "fillColor": "white", "padding": 2, "symbolType": "stroke", "symbolSize": 700, "symbolStrokeWidth": 1.5, "labelFont": "Liberation Serif", "labelFontSize": 11, "labelFontWeight": "bold", "labelFontStyle": "italic", "columnPadding": 8, "labelOffset": 4}}}},
        {"data": {"name": "events"}, "mark": {"type": "rule", "strokeDash": [4, 3], "color": "#444", "strokeWidth": 1},
         "encoding": {"x": {"field": "t", "type": "quantitative"},
          "y": {"datum": 1.041, "type": "quantitative", "scale": {"domain": [0, 1], "nice": false, "zero": false}, "axis": null}, "y2": {"datum": -0.184}}}
       ]},
      {"width": 309, "height": 50, "resolve": {"scale": {"y": "independent"}},
       "layer": [
        {"data": {"name": "torB"}, "mark": {"type": "line", "strokeWidth": 1.3, "clip": true},
         "encoding": {"x": {"field": "t", "type": "quantitative", "scale": {"domain": [-1, 5], "nice": false, "zero": false}, "axis": {"values": [-1, -0.5, 0, 0.5, 1, 1.5, 2, 2.5, 3, 3.5, 4, 4.5, 5], "labels": false, "title": null, "grid": true}},
          "y": {"field": "v", "type": "quantitative", "scale": {"domain": [-11, 51], "nice": false, "zero": false}, "axis": {"values": [0, 20, 40], "format": "d", "title": ["Joint torques", "τₐ, τₕ [Nm]"], "titleFontSize": 11, "titleLineHeight": 10, "grid": true, "minExtent": 28, "maxExtent": 28, "titlePadding": 10}},
          "color": {"field": "s", "type": "nominal", "scale": {"domain": ["τₐ", "τₕ"], "range": ["#111111", "#3ccc3c"]},
           "legend": {"title": null, "orient": "none", "legendX": 213, "legendY": 11, "direction": "horizontal", "strokeColor": "#222", "fillColor": "white", "padding": 2, "symbolType": "stroke", "symbolSize": 700, "symbolStrokeWidth": 1.5, "labelFont": "Liberation Serif", "labelFontSize": 11, "labelFontWeight": "bold", "labelFontStyle": "italic", "columnPadding": 8, "labelOffset": 4}}}},
        {"data": {"name": "events"}, "mark": {"type": "rule", "strokeDash": [4, 3], "color": "#444", "strokeWidth": 1},
         "encoding": {"x": {"field": "t", "type": "quantitative"},
          "y": {"datum": 1.18, "type": "quantitative", "scale": {"domain": [0, 1], "nice": false, "zero": false}, "axis": null}, "y2": {"datum": -0.18}}}
       ]},
      {"width": 309, "height": 50, "resolve": {"scale": {"y": "independent"}},
       "layer": [
        {"data": {"name": "comB"}, "mark": {"type": "line", "strokeWidth": 1.3, "color": "#111111", "clip": true},
         "encoding": {"x": {"field": "t", "type": "quantitative", "scale": {"domain": [-1, 5], "nice": false, "zero": false}, "axis": {"values": [-1, -0.5, 0, 0.5, 1, 1.5, 2, 2.5, 3, 3.5, 4, 4.5, 5], "format": "~g", "labelExpr": "datum.value % 1 === 0 ? datum.label : ''", "labelFontSize": 13, "title": "Time [sec]", "titleFontSize": 13, "titlePadding": 2, "grid": true}},
          "y": {"field": "v", "type": "quantitative", "scale": {"domain": [-0.011, 0.1], "nice": false, "zero": false}, "axis": {"values": [0, 0.05, 0.1], "format": "~g", "title": "θCoM [rad]", "titleFontSize": 12, "grid": true, "minExtent": 28, "maxExtent": 28, "titlePadding": 8}}}},
        {"data": {"name": "events"}, "mark": {"type": "rule", "strokeDash": [4, 3], "color": "#444", "strokeWidth": 1},
         "encoding": {"x": {"field": "t", "type": "quantitative"},
          "y": {"datum": 1.18, "type": "quantitative", "scale": {"domain": [0, 1], "nice": false, "zero": false}, "axis": null}, "y2": {"datum": 0}}}
       ]}
    ], "spacing": 18, "bounds": "flush", "resolve": {"scale": {"color": "independent"}}}
  ], "spacing": 14, "resolve": {"scale": {"color": "independent"}}}
],
"spacing": -2,
"resolve": {"scale": {"color": "independent"}}
}
